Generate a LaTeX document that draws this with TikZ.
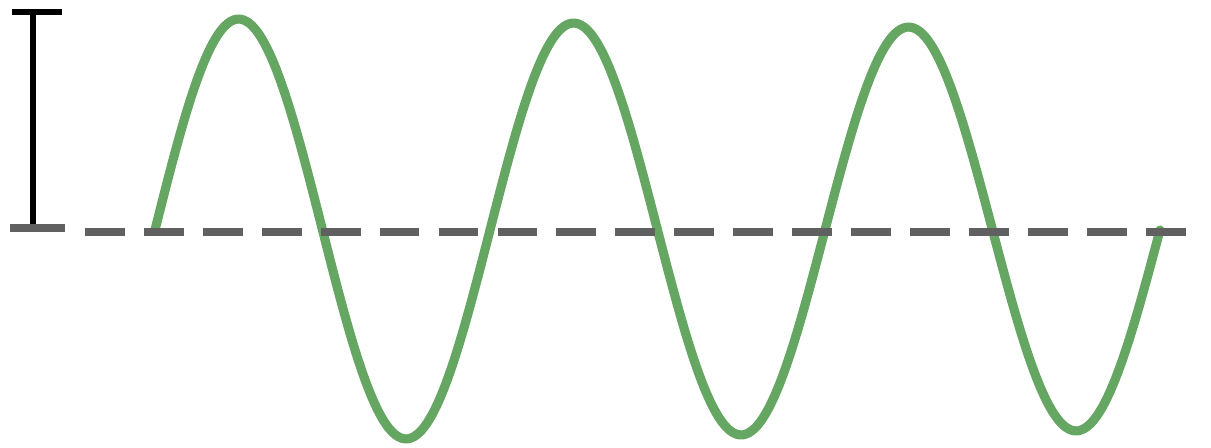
\documentclass[tikz,border=0pt]{standalone}
\usepackage{tikz}
\definecolor{wavegreen}{RGB}{100,166,98}
\definecolor{midgray}{RGB}{96,96,96}

\begin{document}
\begin{tikzpicture}[x=0.03cm,y=0.03cm]
    \useasboundingbox (0,0) rectangle (1211,447);
    % sine wave, three periods
    \draw[wavegreen,line width=7.8pt,line cap=round,line join=round]
      plot[domain=155:1160,samples=160,smooth] (\x,{217+(212-0.012*(\x-155))*sin((\x-155)/335*360)});
    % zero line
    \draw[midgray,line width=7.2pt,dash pattern=on 34pt off 16.3pt]
      (85,215) -- (1193,215);
    % amplitude bar
    \coordinate (top) at (33,435);
    \coordinate (bot) at (33,219);
    \draw[black,line width=4.3pt] (top) -- (bot);
    \draw[black,line width=4.3pt] ([xshift=-18]top) -- ([xshift=25]top);
    \draw[midgray,line width=6.5pt] ([xshift=-20]bot) -- ([xshift=27]bot);
  \end{tikzpicture}
\end{document}
